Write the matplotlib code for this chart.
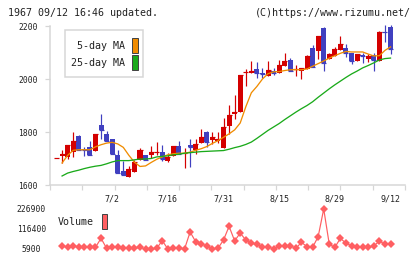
import numpy as np
import matplotlib
matplotlib.use("Agg")
import matplotlib.pyplot as plt
from matplotlib.patches import Rectangle

# ---------------- data ----------------
opens = [1702, 1708, 1706, 1723, 1786, 1734, 1745, 1727, 1828, 1794,
         1775, 1714, 1651, 1632, 1648, 1693, 1714, 1712, 1724, 1724,
         1689, 1711, 1748, 1720, 1752, 1733, 1760, 1801, 1771, 1767,
         1741, 1824, 1869, 1876, 2027, 2024, 2039, 2021, 2012, 2031,
         2024, 2050, 2073, 2039, 2031, 2039, 2118, 2107, 2194, 2077,
         2088, 2110, 2118, 2099, 2069, 2089, 2077, 2092, 2069, 2179, 2197]
highs = [1702, 1733, 1752, 1800, 1790, 1743, 1766, 1791, 1869, 1802,
         1775, 1733, 1689, 1670, 1695, 1740, 1714, 1748, 1761, 1752,
         1720, 1748, 1767, 1740, 1775, 1775, 1812, 1805, 1801, 1801,
         1854, 1903, 1941, 2016, 2039, 2069, 2065, 2043, 2069, 2043,
         2073, 2099, 2080, 2054, 2043, 2090, 2130, 2163, 2197, 2100,
         2121, 2163, 2133, 2099, 2095, 2099, 2095, 2099, 2180, 2205, 2205]
lows = [1702, 1683, 1700, 1706, 1733, 1708, 1714, 1727, 1774, 1765,
        1717, 1645, 1636, 1632, 1648, 1693, 1695, 1702, 1712, 1689,
        1685, 1711, 1718, 1664, 1667, 1718, 1760, 1745, 1756, 1760,
        1741, 1794, 1850, 1876, 1975, 2024, 2005, 2005, 2012, 2016,
        2024, 2050, 2031, 2012, 2001, 2039, 2046, 2077, 2029, 2077,
        2088, 2110, 2084, 2058, 2069, 2061, 2065, 2031, 2069, 2141, 2095]
closes = [1702, 1718, 1752, 1767, 1733, 1732, 1714, 1791, 1809, 1765,
          1717, 1645, 1636, 1661, 1685, 1733, 1695, 1724, 1724, 1699,
          1706, 1748, 1718, 1720, 1742, 1756, 1782, 1763, 1782, 1775,
          1820, 1865, 1876, 2016, 2027, 2031, 2024, 2018, 2035, 2024,
          2054, 2069, 2031, 2039, 2043, 2088, 2046, 2163, 2061, 2095,
          2114, 2133, 2099, 2069, 2095, 2087, 2088, 2073, 2178, 2177, 2114]

nan = np.nan
ma5 = [nan, 1683, 1712, 1731, 1733, 1733, 1733, 1744, 1752, 1758,
       1761, 1755, 1742, 1712, 1686, 1670, 1672, 1685, 1697, 1706,
       1714, 1718, 1720, 1720, 1724, 1731, 1737, 1745, 1757, 1767,
       1780, 1793, 1808, 1834, 1895, 1948, 1972, 2000, 2020, 2027,
       2028, 2032, 2035, 2035, 2035, 2038, 2048, 2058, 2068, 2079,
       2088, 2097, 2104, 2102, 2102, 2102, 2094, 2087, 2088, 2108, 2121]
ma25 = [nan, 1634, 1645, 1651, 1656, 1662, 1667, 1671, 1674, 1680,
        1687, 1692, 1692, 1692, 1695, 1698, 1698, 1700, 1706, 1708,
        1710, 1714, 1716, 1720, 1722, 1724, 1726, 1727, 1728, 1729,
        1730, 1735, 1741, 1746, 1753, 1762, 1776, 1791, 1806, 1819,
        1832, 1847, 1861, 1875, 1888, 1900, 1914, 1931, 1947, 1963,
        1978, 1992, 2006, 2019, 2030, 2042, 2051, 2061, 2072, 2077, 2079]
volume = [nan, 24100, 15300, 24100, 15300, 15300, 15300, 15300, 65000, 9600,
          15300, 18600, 9600, 9600, 9600, 15300, 5900, 5900, 9600, 51900,
          5900, 9600, 9600, 5900, 100000, 46200, 33500, 24100, 5900, 9600,
          55600, 131000, 51000, 94000, 55600, 37400, 31800, 15300, 18600, 5900,
          24100, 24100, 24100, 9600, 42900, 18600, 15300, 73900, 226900, 31800,
          15300, 65000, 37400, 24100, 15300, 15300, 15300, 22500, 50100, 31800, 31800]

date_labels = ["7/2", "7/16", "7/31", "8/15", "8/29", "9/12"]
date_index = [10, 20, 30, 40, 50, 60]
price_ticks = [1600, 1800, 2000, 2200]
vol_ticks = [5900, 116400, 226900]

# ---------------- style ----------------
W, H = 420, 259
RED = "#d40000"
BLUE = "#4040c0"
ORANGE = "#f08c00"
GREEN = "#1aaa1a"
VOLC = "#ff5f62"
AXC = "#d6d6d6"
TXT = "#222222"
MONO = "DejaVu Sans Mono"
PX = 72.0 / 100  # one pixel in points

def fx(x):
    return x / W

def fy(y):
    return 1 - y / H

fig = plt.figure(figsize=(W / 100, H / 100), dpi=100)
fig.patch.set_facecolor("white")

n = len(closes)
xs = np.arange(n)
x0 = (50 - 56.5) / 5.567
x1 = (405 - 56.5) / 5.567

# price axes
ax = fig.add_axes([fx(50), fy(185), fx(405) - fx(50), fy(26) - fy(185)])
ax.set_xlim(x0, x1)
ax.set_ylim(1600, 2200)
for s in ["top", "right"]:
    ax.spines[s].set_visible(False)
for s in ["left", "bottom"]:
    ax.spines[s].set_color(AXC)
    ax.spines[s].set_linewidth(1.5 * PX)

o = np.array(opens, float)
c = np.array(closes, float)
h = np.array(highs, float)
l = np.array(lows, float)
up = c >= o
cols = np.where(up, RED, BLUE)
bw = 0.9
ax.vlines(xs, l, h, colors=cols, linewidth=1.2 * PX, zorder=2, clip_on=False)
ax.bar(xs, np.abs(c - o), bottom=np.minimum(o, c), width=bw, color=cols,
       linewidth=0, zorder=3)
ax.hlines(c, xs - bw / 2, xs + bw / 2, colors=cols, linewidth=1.2 * PX, zorder=3)

ax.plot(xs, ma5, color=ORANGE, linewidth=1.3 * PX, zorder=4)
ax.plot(xs, ma25, color=GREEN, linewidth=1.3 * PX, zorder=4)

ax.set_yticks(price_ticks)
ax.set_yticklabels([str(t) for t in price_ticks], fontfamily=MONO, fontsize=5.8,
                   color=TXT)
ax.tick_params(axis="y", length=5 * PX, width=1.2 * PX, color=AXC, pad=5)
ax.set_xticks(date_index)
ax.set_xticklabels(date_labels, fontfamily=MONO, fontsize=6, color=TXT)
ax.set_xticks(np.linspace(x0, x1, 12), minor=True)
ax.tick_params(axis="x", which="major", length=0, pad=7)
ax.tick_params(axis="x", which="minor", length=5 * PX, width=1.2 * PX, color=AXC)

# volume axes
av = fig.add_axes([fx(50), fy(249), fx(405) - fx(50), fy(209) - fy(249)])
av.set_xlim(x0, x1)
av.set_ylim(5900, 226900)
for s in av.spines.values():
    s.set_visible(False)
av.plot(xs, volume, color=VOLC, linewidth=1.2 * PX, marker="D", markersize=3.6,
        markeredgewidth=0, clip_on=False)
av.set_xticks([])
av.set_yticks(vol_ticks)
av.set_yticklabels([str(t) for t in vol_ticks], fontfamily=MONO, fontsize=5.8,
                   color=TXT, ha="center")
av.tick_params(axis="y", length=0, pad=13.5)

# legend for MAs
fig.add_artist(Rectangle((fx(65), fy(77)), fx(143) - fx(65), fy(30) - fy(77),
                         transform=fig.transFigure, facecolor="white",
                         edgecolor=AXC, linewidth=1.5 * PX, zorder=5))
fig.text(fx(125), fy(46), "5-day MA", ha="right", va="center", fontfamily=MONO,
         fontsize=7.2, color=TXT, zorder=6)
fig.text(fx(125), fy(63), "25-day MA", ha="right", va="center", fontfamily=MONO,
         fontsize=7.2, color=TXT, zorder=6)
fig.add_artist(Rectangle((fx(132), fy(52.5)), fx(6), fy(0) - fy(15),
                         transform=fig.transFigure, facecolor=ORANGE,
                         edgecolor="#444444", linewidth=1.0 * PX, zorder=6))
fig.add_artist(Rectangle((fx(132), fy(69.5)), fx(6), fy(0) - fy(15),
                         transform=fig.transFigure, facecolor=GREEN,
                         edgecolor="#444444", linewidth=1.0 * PX, zorder=6))

# legend for volume
fig.text(fx(58), fy(222), "Volume", ha="left", va="center", fontfamily=MONO,
         fontsize=7.2, color=TXT)
fig.add_artist(Rectangle((fx(101.5), fy(228.5)), fx(6), fy(0) - fy(15),
                         transform=fig.transFigure, facecolor=VOLC,
                         edgecolor="#444444", linewidth=1.0 * PX, zorder=6))

# header
fig.text(fx(8), fy(13), "1967 09/12 16:46 updated.", ha="left", va="center",
         fontfamily=MONO, fontsize=7.2, color=TXT)
fig.text(fx(411), fy(13), "(C)https://www.rizumu.net/", ha="right", va="center",
         fontfamily=MONO, fontsize=7.2, color=TXT)

fig.savefig("out.png", dpi=100, facecolor="white")
